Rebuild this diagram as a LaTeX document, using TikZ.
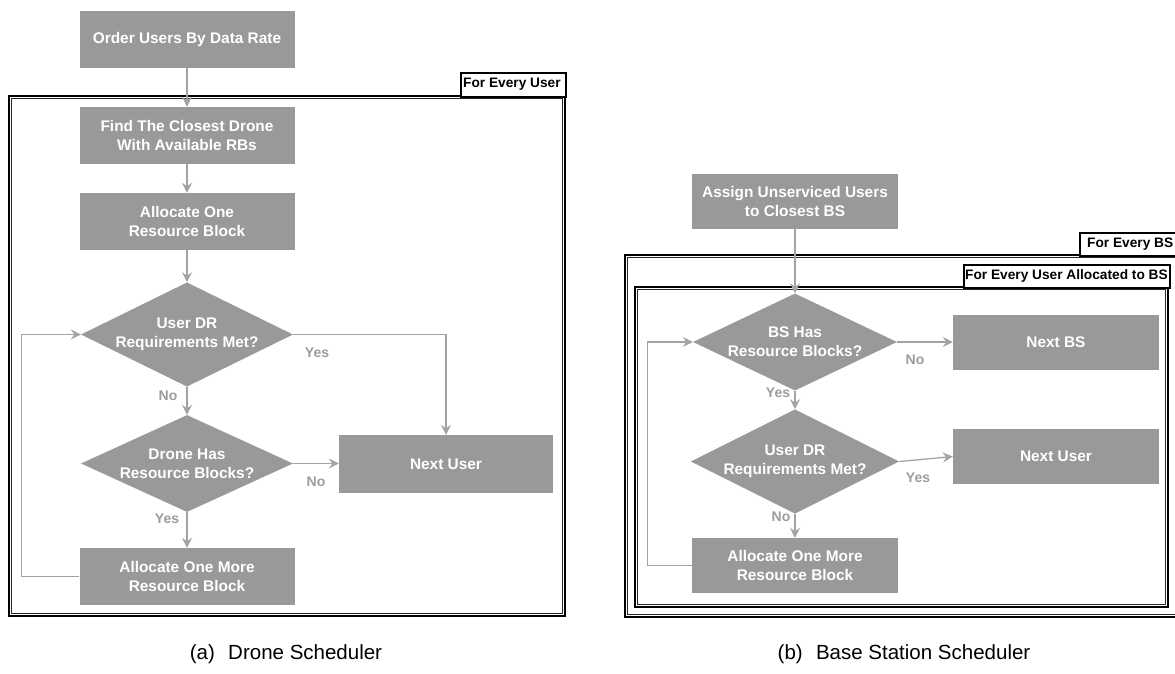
\documentclass[tikz,border=0pt]{standalone}
\usepackage{fontspec}
\setmainfont{Liberation Sans}
\usetikzlibrary{shapes.geometric,arrows.meta}

\definecolor{boxgray}{HTML}{999999}
\definecolor{linegray}{HTML}{A3A3A3}
\definecolor{labelgray}{HTML}{9C9C9C}

\tikzset{
  procbox/.style={rectangle, fill=boxgray, text=white, align=center,
    font=\bfseries\fontsize{15.4}{19}\selectfont, inner sep=0pt,
    minimum width=215pt, minimum height=57pt},
  decbox/.style={diamond, fill=boxgray, text=white, align=center, aspect=2,
    font=\bfseries\fontsize{15.4}{19}\selectfont, inner sep=0pt,
    minimum width=212pt, minimum height=89pt},
  flow/.style={draw=linegray, line width=1.3pt,
    -{Stealth[length=10pt,width=10pt,inset=3.5pt]}},
  answer/.style={text=labelgray, font=\bfseries\fontsize{14}{16}\selectfont, inner sep=0pt},
  frameouter/.style={draw=black, line width=1.5pt},
  frameinner/.style={draw=black!85, line width=0.6pt},
  looptag/.style={draw=black, line width=1.6pt, fill=white, anchor=north west,
    inner sep=0pt},
  tagtext/.style={anchor=west, inner sep=0pt, font=\bfseries\fontsize{13.7}{15}\selectfont},
  caption/.style={font=\fontsize{20.5}{24}\selectfont, inner sep=0pt}
}

\begin{document}
\begin{tikzpicture}[x=1pt, y=-1pt]
\useasboundingbox (0,0) rectangle (1175,673);

% ---------- (a) drone scheduler ----------
% loop frame "for every user": heavy outline with a thin inner rule
\draw[frameouter] (9,96) rectangle (565,616);
\draw[frameinner] (11.4,98.4) rectangle (562.6,613.6);
\node[looptag, minimum width=105pt, minimum height=24pt] (tagA) at (460,72) {};
\node[tagtext] (tagAtext) at (463,84) {For Every User};

\node[procbox] (order) at (187,39.5) {Order Users By Data Rate};
\node[procbox] (find)  at (187,135.5) {Find The Closest Drone\\With Available RBs};
\node[procbox] (alloc) at (187,221.5) {Allocate One\\Resource Block};
\node[decbox]  (dr)    at (187,334.5) {User DR\\Requirements Met?};
\node[decbox]  (has)   at (187,463.5) {Drone Has\\Resource Blocks?};
\node[procbox] (more)  at (187,576.5) {Allocate One More\\Resource Block};
\node[procbox, minimum width=214pt, minimum height=58pt] (next) at (446,464) {Next User};

\draw[flow] (order) -- (find);
\draw[flow] (find) -- (alloc);
\draw[flow] (alloc) -- (dr);
\draw[flow] (dr) -- (has);
\draw[flow] (has) -- (more);
\draw[flow] (dr.east) -| (next.north);
\draw[flow] (has.east) -- (has.east -| next.west);
\draw[flow] (more.west) -- ++(-58,0) |- (dr.west);

\node[answer] (yesA1) at (317,353) {Yes};
\node[answer] (noA1)  at (168,396) {No};
\node[answer] (noA2)  at (316,482) {No};
\node[answer] (yesA2) at (167,519) {Yes};

\node[caption] (capA) at (286,654) {(a)\hspace{0.65em}Drone Scheduler};

% ---------- (b) base station scheduler ----------
% loop frame "for every BS" (runs past the right edge)
\draw[frameouter] (625,255) rectangle (1185,617);
\draw[frameinner] (627.4,257.4) rectangle (1182.6,614.6);
\node[looptag, minimum width=105pt, minimum height=23pt] (tagB) at (1079,232) {};
\node[tagtext] (tagBtext) at (1087,244) {For Every BS};

% loop frame "for every user allocated to BS"
\draw[frameouter] (635,287) rectangle (1168,607);
\draw[frameinner] (637.4,289.4) rectangle (1165.6,604.6);
\node[looptag, minimum width=206pt, minimum height=23pt] (tagC) at (963,264) {};
\node[tagtext] (tagCtext) at (965,276) {For Every User Allocated to BS};

\node[procbox, minimum width=206pt, minimum height=55pt] (assign) at (795,201.5) {Assign Unserviced Users\\to Closest BS};
\node[decbox, minimum width=204pt, minimum height=86pt] (bsrb) at (795,342) {BS Has\\Resource Blocks?};
\node[procbox, minimum width=206pt, minimum height=55pt] (nextbs) at (1056,342.5) {Next BS};
\node[decbox, minimum width=204pt, minimum height=87pt] (udr) at (795,461.5) {User DR\\Requirements Met?};
\node[procbox, minimum width=206pt, minimum height=55pt] (nextuser) at (1056,456.5) {Next User};
\node[procbox, minimum width=206pt, minimum height=55pt] (more2) at (795,565.5) {Allocate One More\\Resource Block};

\draw[flow] (assign) -- (bsrb);
\draw[flow] (bsrb.east) -- (bsrb.east -| nextbs.west);
\draw[flow] (bsrb) -- (udr);
\draw[flow] (udr.east) -- (nextuser.west);
\draw[flow] (udr) -- (more2);
\draw[flow] (more2.west) -- ++(-44,0) |- (bsrb.west);

\node[answer] (noB1)  at (915,360) {No};
\node[answer] (yesB1) at (778,393) {Yes};
\node[answer] (yesB2) at (918,478) {Yes};
\node[answer] (noB2)  at (781,517) {No};

\node[caption] (capB) at (904,654) {(b)\hspace{0.65em}Base Station Scheduler};
\end{tikzpicture}
\end{document}
